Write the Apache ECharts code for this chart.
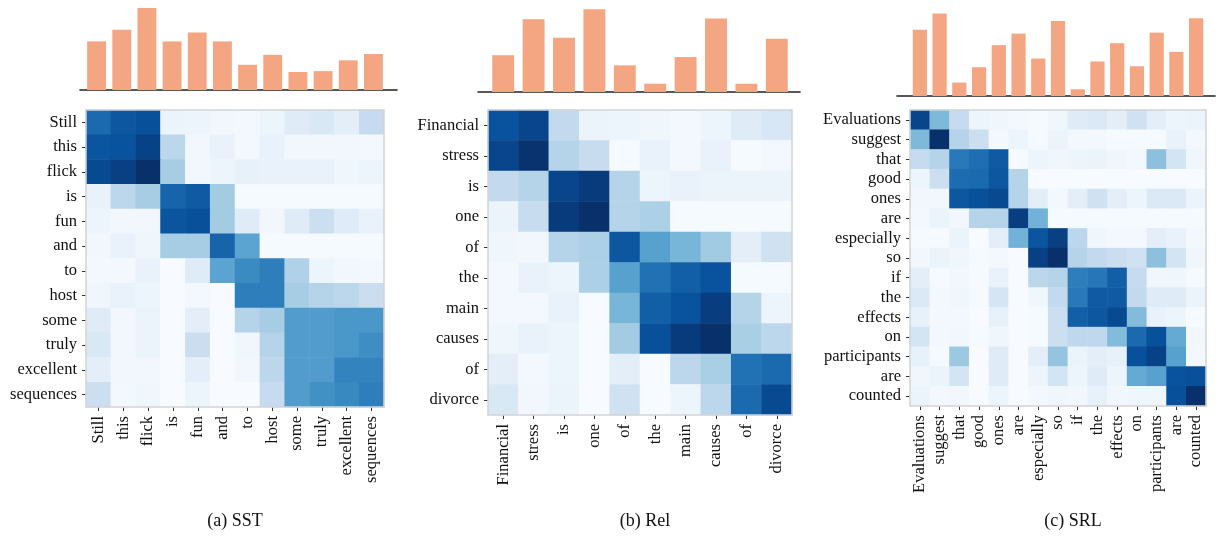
<!DOCTYPE html>
<html><head><meta charset="utf-8">
<script src="https://cdn.jsdelivr.net/npm/echarts@6/dist/echarts.min.js"></script>
<style>html,body{margin:0;padding:0;background:#fff}#c{width:1221px;height:537px}</style>
</head><body><div id="c"></div>
<script>
// ---------- (a) SST ----------
const sstTokens = ['Still','this','flick','is','fun','and','to','host','some','truly','excellent','sequences'];
const sstBars = [0.54,0.67,0.91,0.54,0.64,0.54,0.28,0.39,0.20,0.21,0.33,0.40];
const sstAttn = [
  [0.78,0.85,0.88,0.06,0.05,0.03,0.02,0.05,0.12,0.15,0.10,0.25],
  [0.86,0.87,0.93,0.28,0.03,0.07,0.02,0.07,0.03,0.03,0.03,0.02],
  [0.90,0.94,1.00,0.35,0.03,0.05,0.08,0.07,0.07,0.07,0.04,0.05],
  [0.07,0.28,0.35,0.80,0.84,0.36,0.01,0.01,0.01,0.01,0.01,0.01],
  [0.05,0.03,0.03,0.86,0.88,0.36,0.12,0.03,0.12,0.22,0.12,0.07],
  [0.03,0.07,0.04,0.35,0.35,0.80,0.55,0.01,0.01,0.01,0.01,0.01],
  [0.02,0.02,0.07,0.00,0.12,0.55,0.65,0.70,0.32,0.05,0.03,0.02],
  [0.04,0.07,0.05,0.00,0.02,0.00,0.70,0.70,0.35,0.30,0.28,0.23],
  [0.12,0.03,0.06,0.00,0.10,0.00,0.30,0.35,0.58,0.58,0.60,0.60],
  [0.15,0.03,0.06,0.00,0.23,0.00,0.04,0.30,0.58,0.58,0.60,0.64],
  [0.10,0.03,0.03,0.00,0.10,0.00,0.03,0.28,0.58,0.58,0.68,0.68],
  [0.22,0.02,0.04,0.00,0.05,0.00,0.00,0.25,0.58,0.63,0.66,0.70]
];
// ---------- (b) Rel ----------
const relTokens = ['Financial','stress','is','one','of','the','main','causes','of','divorce'];
const relBars = [0.40,0.79,0.59,0.90,0.29,0.09,0.38,0.80,0.09,0.58];
const relAttn = [
  [0.87,0.92,0.26,0.06,0.05,0.04,0.02,0.05,0.12,0.16],
  [0.92,0.99,0.30,0.24,0.01,0.07,0.02,0.07,0.01,0.02],
  [0.26,0.30,0.92,0.96,0.30,0.05,0.07,0.06,0.06,0.06],
  [0.06,0.24,0.96,1.00,0.30,0.33,0.01,0.01,0.01,0.01],
  [0.04,0.03,0.30,0.33,0.85,0.56,0.47,0.37,0.10,0.20],
  [0.02,0.07,0.05,0.33,0.56,0.75,0.82,0.87,0.01,0.01],
  [0.02,0.02,0.07,0.00,0.47,0.82,0.87,0.95,0.30,0.05],
  [0.04,0.07,0.05,0.00,0.36,0.88,0.96,1.00,0.34,0.28],
  [0.10,0.02,0.05,0.00,0.10,0.00,0.28,0.34,0.75,0.78],
  [0.15,0.03,0.06,0.00,0.20,0.00,0.05,0.28,0.78,0.90]
];
// ---------- (c) SRL ----------
const srlTokens = ['Evaluations','suggest','that','good','ones','are','especially','so','if','the','effects','on','participants','are','counted'];
const srlBars = [0.69,0.86,0.14,0.30,0.53,0.65,0.39,0.78,0.07,0.36,0.55,0.31,0.66,0.46,0.81];
const srlAttn = [
  [0.92,0.45,0.25,0.05,0.04,0.02,0.01,0.04,0.12,0.14,0.10,0.20,0.10,0.05,0.06],
  [0.45,1.00,0.30,0.22,0.02,0.05,0.01,0.06,0.02,0.02,0.01,0.01,0.01,0.07,0.02],
  [0.25,0.30,0.72,0.76,0.84,0.01,0.05,0.04,0.05,0.06,0.04,0.02,0.42,0.18,0.04],
  [0.05,0.22,0.77,0.78,0.85,0.30,0.00,0.00,0.00,0.00,0.00,0.00,0.00,0.00,0.00],
  [0.03,0.03,0.85,0.88,0.90,0.30,0.10,0.02,0.10,0.20,0.10,0.05,0.14,0.14,0.06],
  [0.02,0.06,0.03,0.30,0.30,0.95,0.48,0.01,0.01,0.01,0.01,0.01,0.01,0.01,0.01],
  [0.01,0.01,0.06,0.00,0.10,0.48,0.86,0.94,0.28,0.04,0.02,0.02,0.10,0.07,0.02],
  [0.03,0.06,0.04,0.01,0.02,0.00,0.94,1.00,0.30,0.26,0.23,0.20,0.42,0.18,0.04],
  [0.10,0.01,0.03,0.01,0.07,0.00,0.28,0.30,0.70,0.73,0.82,0.25,0.04,0.04,0.01],
  [0.14,0.02,0.04,0.01,0.17,0.00,0.04,0.26,0.72,0.84,0.84,0.26,0.12,0.12,0.06],
  [0.08,0.02,0.02,0.00,0.08,0.00,0.01,0.22,0.82,0.85,0.90,0.44,0.07,0.05,0.01],
  [0.18,0.02,0.03,0.01,0.04,0.00,0.01,0.22,0.27,0.27,0.44,0.78,0.88,0.52,0.03],
  [0.08,0.01,0.38,0.00,0.12,0.00,0.10,0.40,0.06,0.10,0.08,0.88,0.93,0.56,0.02],
  [0.04,0.06,0.18,0.00,0.12,0.00,0.05,0.18,0.05,0.12,0.05,0.52,0.56,0.87,0.88],
  [0.06,0.02,0.03,0.00,0.05,0.00,0.02,0.04,0.03,0.08,0.03,0.04,0.04,0.88,1.00]
];
const captions = ['(a) SST','(b) Rel','(c) SRL'];

const blues = ['#f7fbff','#deebf7','#c6dbef','#9ecae1','#6baed6','#4292c6','#2171b5','#08519c','#08306b'];
const serif = "'Liberation Serif','DejaVu Serif',serif";
const barColor = '#f4a582';

const panels = [
  {tokens: sstTokens, bars: sstBars, attn: sstAttn, hm:{left:86,top:110,width:298,height:297}, bar:{left:84,top:0,width:302,height:90}, base:{left:80,top:0,width:317,height:90}, gap:'25%', cap:230},
  {tokens: relTokens, bars: relBars, attn: relAttn, hm:{left:488,top:110,width:304,height:305}, bar:{left:488,top:0,width:304,height:92}, base:{left:478,top:0,width:322,height:92}, gap:'28%', cap:640},
  {tokens: srlTokens, bars: srlBars, attn: srlAttn, hm:{left:910,top:110,width:296,height:296}, bar:{left:910,top:0,width:296,height:96}, base:{left:897,top:0,width:318,height:96}, gap:'28%', cap:1068}
];

const grid = [], xAxis = [], yAxis = [], series = [], visualMap = [], title = [];
panels.forEach(p => grid.push(Object.assign({show:true, borderColor:'#d3d3d3', borderWidth:1.5, backgroundColor:'transparent', z:10}, p.hm)));
panels.forEach(p => grid.push(Object.assign({show:false}, p.bar)));
panels.forEach(p => grid.push(Object.assign({show:false}, p.base)));

const labelStyle = {fontFamily:serif, fontSize:16.5, color:'#111'};
panels.forEach((p, k) => {
  xAxis.push({type:'category', gridIndex:k, data:p.tokens,
    axisLine:{show:false}, splitLine:{show:false},
    axisTick:{show:true, alignWithLabel:true, length:4, lineStyle:{color:'#333', width:1}},
    axisLabel:Object.assign({rotate:90, interval:0, margin:9}, labelStyle)});
  yAxis.push({type:'category', gridIndex:k, data:p.tokens, inverse:true,
    axisLine:{show:false}, splitLine:{show:false},
    axisTick:{show:true, alignWithLabel:true, length:4, lineStyle:{color:'#333', width:1}},
    axisLabel:Object.assign({interval:0, margin:9}, labelStyle)});
  const data = [];
  p.attn.forEach((row, i) => row.forEach((v, j) => data.push([j, i, v])));
  series.push({type:'heatmap', xAxisIndex:k, yAxisIndex:k, data:data, itemStyle:{borderWidth:0}, emphasis:{disabled:true}, progressive:0});
  visualMap.push({type:'continuous', show:false, min:0, max:1, seriesIndex:k, inRange:{color:blues}});
  title.push({text:captions[k], left:p.cap, top:507, textAlign:'center',
    textStyle:{fontFamily:serif, fontSize:18, fontWeight:'normal', color:'#111'}});
});
panels.forEach((p, k) => {
  const gi = 3 + k;
  xAxis.push({type:'category', gridIndex:gi, data:p.tokens, show:false});
  yAxis.push({type:'value', gridIndex:gi, min:0, max:1, show:false});
  series.push({type:'bar', xAxisIndex:gi, yAxisIndex:gi, data:p.bars, barCategoryGap:p.gap,
    itemStyle:{color:barColor}, emphasis:{disabled:true}});
});
panels.forEach((p, k) => {
  const gi = 6 + k;
  xAxis.push({type:'value', gridIndex:gi, min:0, max:1, axisLine:{show:true, onZero:false, lineStyle:{color:'#222', width:1.6}},
    axisTick:{show:false}, axisLabel:{show:false}, splitLine:{show:false}});
  yAxis.push({type:'value', gridIndex:gi, min:0, max:1, show:false});
});

const chart = echarts.init(document.getElementById('c'), null, {renderer:'canvas'});
chart.setOption({animation:false, backgroundColor:'#fff', title, grid, xAxis, yAxis, visualMap, series});
</script>
</body></html>
